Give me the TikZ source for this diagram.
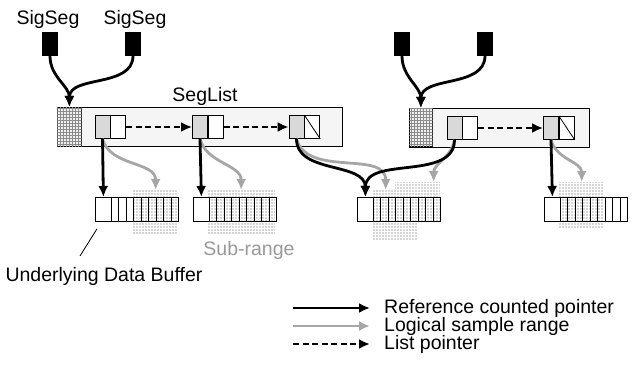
\documentclass[tikz,border=0pt]{standalone}
\usepackage{fontspec}
\setmainfont{Liberation Sans}
\usetikzlibrary{arrows.meta,patterns,positioning}
\pgfdeclarelayer{bg}
\pgfsetlayers{bg,main}

\begin{document}
\begin{tikzpicture}[
			x = 1pt, y = -1pt,
			every node/.style = {inner sep=0pt, font=\fontsize{19.5}{22}\selectfont},
			box/.style = {draw, line width=0.8pt, inner sep=0pt},
			sigseg/.style = {box, fill=black, minimum width=15, minimum height=23},
			hd/.style = {box, fill=black!6, postaction={pattern=grid, pattern color=black!45}, minimum width=24, minimum height=39, anchor=north west},
			seglist/.style = {box, fill=black!4, minimum height=39, anchor=north west},
			car/.style = {box, fill=black!15, minimum width=15, minimum height=23},
			cdr/.style = {box, fill=white, minimum width=15, minimum height=23, right=0pt of #1},
			subr/.style = {fill=black!16, postaction={pattern=grid, pattern color=white}, minimum width=45, minimum height=45, anchor=north west},
			ref/.style = {line width=2.8pt, -{Latex[length=11pt,width=10pt]}},
			rng/.style = {ref, black!35},
			lst/.style = {line width=2.8pt, dash pattern=on 6pt off 3.5pt, -{Latex[length=11pt,width=10pt]}}
			]
			\useasboundingbox (0,0) rectangle (640,366);

			% signal segments
			\node[sigseg] (s1) at (50,44) {};
			\node[sigseg] (s2) at (133,44) {};
			\node[sigseg] (s3) at (402,44) {};
			\node[sigseg] (s4) at (485,44) {};
			\node (t1) at (48,19) {SigSeg};
			\node (t2) at (135,19) {SigSeg};

			% the two seglists
			\node[seglist, minimum width=285] (lst1) at (57,107) {};
			\node[hd] (hd1) at (57,107) {};
			\node (lbl) at (205,96) {SegList};
			\node[seglist, minimum width=180] (lst2) at (409,108) {};
			\node[hd, minimum height=38, minimum width=23] (hd2) at (409,108) {};

			\node[car] (e1) at (102.5,127) {};  \node[cdr=e1] (e1r) {};
			\node[car] (e2) at (200,127) {};    \node[cdr=e2] (e2r) {};
			\node[car] (e3) at (296.5,127) {};  \node[cdr=e3] (e3r) {};
			\node[car] (e4) at (454.5,128) {};  \node[cdr=e4] (e4r) {};
			\node[car] (e5) at (551,128) {};    \node[cdr=e5] (e5r) {};
			\draw[line width=0.8pt] (e3r.north west) -- (e3r.south east);
			\draw[line width=0.8pt] (e5r.north west) -- (e5r.south east);

			% sub-ranges
			\begin{pgfonlayer}{bg}
				\node[subr] (gA) at (133,190) {};
				\node[subr, minimum width=68] (gB) at (207,190) {};
				\node[subr, minimum height=50] (gC) at (373,190) {};
				\node[subr, minimum height=40] (gD) at (395,182) {};
				\node[subr, minimum height=47] (gE) at (559,182) {};
			\end{pgfonlayer}

			% data buffers
			\foreach \n/\x in {A/95,B/193,C/357,D/544}{
				\draw[line width=0.8pt] (\x,197) rectangle ++(83.5,24);
				\foreach \i in {0,...,8} \draw[line width=0.8pt] ({\x+16+\i*7.5},197) -- ++(0,24);
				\node[box, fill=white, minimum width=16, minimum height=24, anchor=north west] (cell\n) at (\x,197) {};
			}

			% pointers
			\draw[ref] (s1.south) to[out=-90,in=90] (hd1.north);
			\draw[ref] (s2.south) to[out=-90,in=90] (hd1.north);
			\draw[ref] (s3.south) to[out=-90,in=90] (hd2.north);
			\draw[ref] (s4.south) to[out=-90,in=90] (hd2.north);

			\draw[lst] (e1r.east) -- (e2.west);
			\draw[lst] (e2r.east) -- (e3.west);
			\draw[lst] (e4r.east) -- (e5.west);

			\draw[rng] (e1.south) to[out=-75,in=90] (gA.north);
			\draw[rng] (e2.south) to[out=-75,in=90] (gB.north);
			\draw[rng] (e3.south) to[out=-75,in=90] ([xshift=-10pt]gC.north);
			\draw[rng] (e4.south) to[out=-100,in=90] ([xshift=16pt]gD.north);
			\draw[rng] (e5.south) to[out=-75,in=90] (gE.north);

			\draw[ref] (e1.south) -- (cellA.north);
			\draw[ref] (e2.south) -- (cellB.north);
			\draw[ref] (e3.south) to[out=-90,in=90] (cellC.north);
			\draw[ref] (e4.south) to[out=-90,in=90] (cellC.north);
			\draw[ref] (e5.south) -- (cellD.north);

			% labels
			\node[text=black!40] (sub) at (249,250) {Sub-range};
			\node (ulab) at (104,276) {Underlying Data Buffer};
			\coordinate (lead) at (80,256);
			\draw[line width=0.8pt] ([shift={(2,7)}]cellA.south west) -- (lead);

			% legend
			\coordinate (k1) at (293,308); \coordinate (m1) at (370,308);
			\coordinate (k2) at (293,326); \coordinate (m2) at (370,326);
			\coordinate (k3) at (293,344); \coordinate (m3) at (370,344);
			\node[anchor=west] (l1) at (384,308) {Reference counted pointer};
			\node[anchor=west] (l2) at (384,326) {Logical sample range};
			\node[anchor=west] (l3) at (384,344) {List pointer};
			\draw[ref] (k1) -- (m1);
			\draw[rng] (k2) -- (m2);
			\draw[lst] (k3) -- (m3);

		\end{tikzpicture}
\end{document}
